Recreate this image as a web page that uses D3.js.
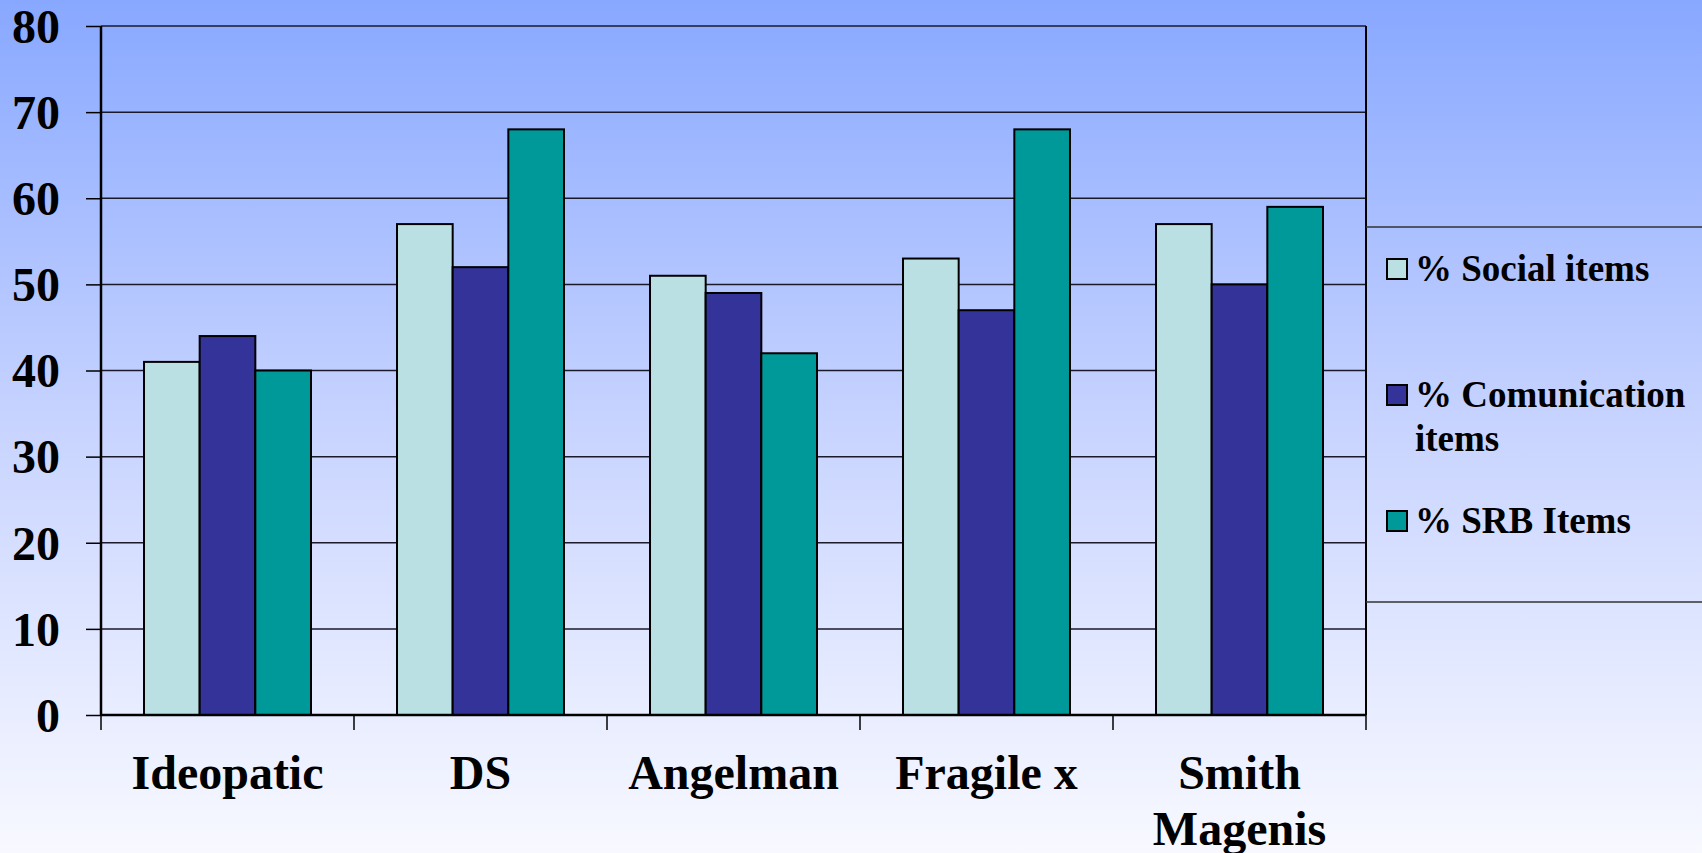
<!DOCTYPE html>
<html>
<head>
<meta charset="utf-8">
<script src="https://cdn.jsdelivr.net/npm/d3@7/dist/d3.min.js"></script>
<style>
  html, body { margin: 0; padding: 0; overflow: hidden; }
  svg { display: block; font-family: "Liberation Serif", "Times New Roman", serif; font-weight: bold; }
</style>
</head>
<body>
<script>
// Groups along the x axis (multi-line names split on "\n")
const categories = ["Ideopatic", "DS", "Angelman", "Fragile x", "Smith\nMagenis"];
// Series names as shown in the legend
const seriesNames = ["% Social items", "% Comunication items", "% SRB Items"];
// Percent values per series, in category order
const socialItems = [41, 57, 51, 53, 57];
const comunicationItems = [44, 52, 49, 47, 50];
const srbItems = [40, 68, 42, 68, 59];
// Y axis ticks
const yTicks = [0, 10, 20, 30, 40, 50, 60, 70, 80];

const seriesValues = [socialItems, comunicationItems, srbItems];
const colors = ["#bbe0e3", "#333399", "#009999"];

const W = 1702, H = 853;
const plot = { left: 101, right: 1366, top: 26, bottom: 715 };

const svg = d3.select("body").append("svg").attr("width", W).attr("height", H);

// Background gradient
const defs = svg.append("defs");
const grad = defs.append("linearGradient").attr("id", "bg").attr("x1", 0).attr("y1", 0).attr("x2", 0).attr("y2", 1);
grad.append("stop").attr("offset", "0%").attr("stop-color", "#88a8ff");
grad.append("stop").attr("offset", "50%").attr("stop-color", "#c8d4ff");
grad.append("stop").attr("offset", "100%").attr("stop-color", "#f8f9ff");
svg.append("rect").attr("width", W).attr("height", H).attr("fill", "url(#bg)");

const x0 = d3.scaleBand().domain(categories).range([plot.left, plot.right]).padding(0);
const x1 = d3.scaleBand().domain(d3.range(seriesNames.length))
  .range([x0.bandwidth() * 0.17, x0.bandwidth() * 0.83]).padding(0);
const y = d3.scaleLinear().domain([0, 80]).range([plot.bottom, plot.top]);

// Horizontal gridlines
svg.append("g").selectAll("line").data(yTicks.filter(d => d > 0)).join("line")
  .attr("x1", plot.left).attr("x2", plot.right)
  .attr("y1", d => y(d)).attr("y2", d => y(d))
  .attr("stroke", "#1a1a2a").attr("stroke-width", 1.5);

// Bars
const groups = svg.append("g").selectAll("g").data(categories).join("g")
  .attr("transform", d => `translate(${x0(d)},0)`);
groups.selectAll("rect")
  .data((c, i) => seriesValues.map((vals, s) => ({ s, v: vals[i] })))
  .join("rect")
  .attr("x", d => x1(d.s))
  .attr("width", x1.bandwidth())
  .attr("y", d => y(d.v))
  .attr("height", d => y(0) - y(d.v))
  .attr("fill", d => colors[d.s])
  .attr("stroke", "#000").attr("stroke-width", 2);

// Y axis
const yAxis = svg.append("g").attr("transform", `translate(${plot.left},0)`)
  .call(d3.axisLeft(y).tickValues(yTicks).tickSize(15).tickPadding(26).tickFormat(d3.format("d")));
yAxis.select(".domain").remove();
yAxis.selectAll(".tick line").attr("stroke", "#000").attr("stroke-width", 1.5);
yAxis.selectAll(".tick text").attr("font-size", 48).attr("font-family", "Liberation Serif, serif")
  .attr("font-weight", "bold").attr("fill", "#000").attr("dy", "0.34em");
svg.append("line").attr("x1", plot.left).attr("x2", plot.left)
  .attr("y1", plot.top).attr("y2", plot.bottom).attr("stroke", "#000").attr("stroke-width", 2.5);

// Right border of plot
svg.append("line").attr("x1", plot.right).attr("x2", plot.right)
  .attr("y1", plot.top).attr("y2", plot.bottom).attr("stroke", "#000").attr("stroke-width", 2);

// X axis: boundary ticks and baseline
const boundaries = categories.map(c => x0(c)).concat([plot.right]);
svg.append("line").attr("x1", plot.left).attr("x2", plot.right)
  .attr("y1", plot.bottom).attr("y2", plot.bottom).attr("stroke", "#000").attr("stroke-width", 2.5);
svg.append("g").selectAll("line").data(boundaries).join("line")
  .attr("x1", d => d).attr("x2", d => d)
  .attr("y1", plot.bottom).attr("y2", plot.bottom + 15)
  .attr("stroke", "#000").attr("stroke-width", 1.5);

// Category labels
svg.append("g").selectAll("text").data(categories).join("text")
  .attr("text-anchor", "middle").attr("font-size", 48).attr("fill", "#000")
  .each(function (d) {
    const t = d3.select(this);
    d.split("\n").forEach((line, i) => {
      t.append("tspan").attr("x", x0(d) + x0.bandwidth() / 2)
        .attr("y", 789 + i * 56).text(line);
    });
  });

// Legend frame
[227, 602].forEach(ly => {
  svg.append("line").attr("x1", plot.right).attr("x2", W)
    .attr("y1", ly).attr("y2", ly).attr("stroke", "#333").attr("stroke-width", 1.5);
});

// Legend entries
const legendRows = [
  { lines: ["% Social items"], top: 259 },
  { lines: ["% Comunication", "items"], top: 385 },
  { lines: ["% SRB Items"], top: 511 }
];
const legend = svg.append("g");
legendRows.forEach((row, i) => {
  legend.append("rect").attr("x", 1387).attr("y", row.top).attr("width", 20).attr("height", 20)
    .attr("fill", colors[i]).attr("stroke", "#000").attr("stroke-width", 2);
  const t = legend.append("text").attr("font-size", 37).attr("fill", "#000");
  row.lines.forEach((line, j) => {
    t.append("tspan").attr("x", 1415).attr("y", row.top + 22 + j * 44).text(line);
  });
});
</script>
</body>
</html>
